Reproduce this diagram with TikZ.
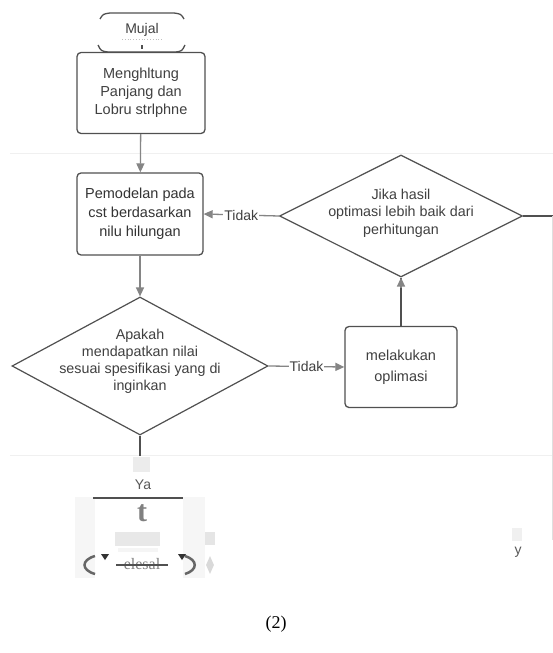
\documentclass[tikz,border=0pt]{standalone}
\usepackage{fontspec}
\setmainfont{Liberation Serif}
\setsansfont{Liberation Sans}
\usetikzlibrary{shapes.geometric,arrows.meta}
\definecolor{edgec}{HTML}{505050}
\definecolor{arrc}{HTML}{858585}
\definecolor{txtc}{HTML}{404040}
\tikzset{
  boxnode/.style={draw=edgec, line width=1.3pt, rounded corners=4pt, inner sep=0pt, align=center, text=txtc, font=\sffamily\fontsize{14.5}{18}\selectfont},
  dianode/.style={draw=edgec, line width=1.2pt, diamond, inner sep=0pt},
  txtnode/.style={align=center, text=txtc, font=\sffamily\fontsize{14.3}{17.5}\selectfont},
  arr/.style={draw=arrc, line width=1.3pt, -{Triangle[length=9pt,width=8pt]}},
  ln/.style={draw=edgec, line width=1.2pt},
  lbl/.style={fill=white, inner sep=1pt, text=txtc, font=\sffamily\fontsize{14}{15}\selectfont},
}
\begin{document}
\begin{tikzpicture}[x=1pt,y=-1pt]
\useasboundingbox[fill=white] (0,0) rectangle (553,653);
% faint scan bands
\draw[gray!12, line width=0.8pt] (10,153) -- (553,153);
\draw[gray!12, line width=0.8pt] (10,455) -- (553,455);

% start terminator
\node[txtnode, font=\sffamily\fontsize{14}{15}\selectfont] (mulai) at (142,30) {Mujal};
\draw[edgec, line width=1.3pt] (100,19) .. controls (103,14) .. (110,13) -- (174,13) .. controls (181,14) .. (184,19);
\draw[edgec, line width=1.3pt] (98,45) .. controls (101,51) .. (108,52) -- (176,52) .. controls (182,51) .. (185,45);
\draw[gray!50, dotted, line width=0.8pt] (122,39) -- (163,39);

% boxes
\node[boxnode, minimum width=128pt, minimum height=81pt] (hitung) at (141,93) {Menghltung\\Panjang dan\\Lobru strlphne};
\node[boxnode, minimum width=126pt, minimum height=82pt, text=black!80, font=\sffamily\fontsize{14.5}{19}\selectfont] (model) at (140,214) {Pemodelan pada\\cst berdasarkan\\nilu hilungan};
\node[boxnode, minimum width=112pt, minimum height=81pt, font=\sffamily\fontsize{14.5}{21}\selectfont] (lakukan) at (401,367) {melakukan\\oplimasi};

% decisions
\node[dianode, minimum width=243pt, minimum height=122pt] (jika) at (401,216) {};
\node[txtnode] (jikat) at (401,213) {Jika hasil\\optimasi lebih baik dari\\perhitungan};
\node[dianode, minimum width=256pt, minimum height=138pt] (apakah) at (140,366) {};
\node[txtnode, font=\sffamily\fontsize{14.3}{17}\selectfont] (apakaht) at (140,361) {Apakah\\mendapatkan nilai\\sesuai spesifikasi yang di\\inginkan};

% connectors
\draw[edgec, line width=1.2pt] (mulai.south) ++(0,5) coordinate (mtick) -- ++(0,4);
\draw[arr] (hitung) -- (model);
\draw[arr] (model) -- (apakah);
\draw[arr] (jika.west) -- node[lbl] {Tidak} (model.east);
\draw[arr] (apakah.east) -- node[lbl] {Tidak} (lakukan.west);
\draw[ln] (lakukan.north) -- (jika.south);
\draw[arr] ([yshift=-10pt]jika.south) -- (jika.south);
\coordinate (redge) at (553,216);
\coordinate (rbottom) at (552,540);
\draw[ln] (jika.east) -- (redge);
\draw[gray!25, line width=1pt] (552,216) -- (rbottom);
\coordinate (yatop) at (140,456);
\draw[ln] (apakah.south) -- (yatop);

% faded lower part
\fill[gray!15] (133,457) rectangle (150,472);
\node[lbl, font=\sffamily\fontsize{14}{16}\selectfont, text=black!65] (ya) at (143,485) {Ya};
\fill[gray!7] (75,497) rectangle (205,578);
\fill[white] (95,497) rectangle (183,578);
\draw[edgec, line width=1.3pt] (93,498) -- (183,498);
\node[font=\rmfamily\bfseries\fontsize{30}{30}\selectfont, text=gray] (tglyph) at (142,513) {t};
\fill[gray!18] (115,532) rectangle (160,546);
\fill[gray!8] (118,548) rectangle (158,552);
\draw[gray!80!black, line width=2.5pt] (95,556) .. controls (81,560) and (81,570) .. (95,574);
\draw[gray!80!black, line width=2.5pt] (185,556) .. controls (198,560) and (198,570) .. (185,574);
\fill[black!80] (101,554) -- (109,554) -- (105,560) -- cycle;
\fill[black!80] (178,554) -- (186,554) -- (182,560) -- cycle;
\node[font=\rmfamily\fontsize{16}{16}\selectfont, text=gray] (esal) at (142,564) {elesal};
\draw[edgec, line width=1.2pt] (116,565) -- (168,565);
\node[diamond, fill=gray!30, minimum width=8pt, minimum height=18pt, inner sep=0pt] (smalldia) at (210,565) {};
\fill[gray!20] (205,532) rectangle (215,545);

% right stray marks
\fill[gray!12] (512,528) rectangle (522,541);
\node[font=\sffamily\fontsize{14}{16}\selectfont, text=black!65] (ychar) at (518,552) {y};

% caption
\node[font=\rmfamily\fontsize{18}{20}\selectfont] (cap) at (276,624) {(2)};
\end{tikzpicture}
\end{document}
